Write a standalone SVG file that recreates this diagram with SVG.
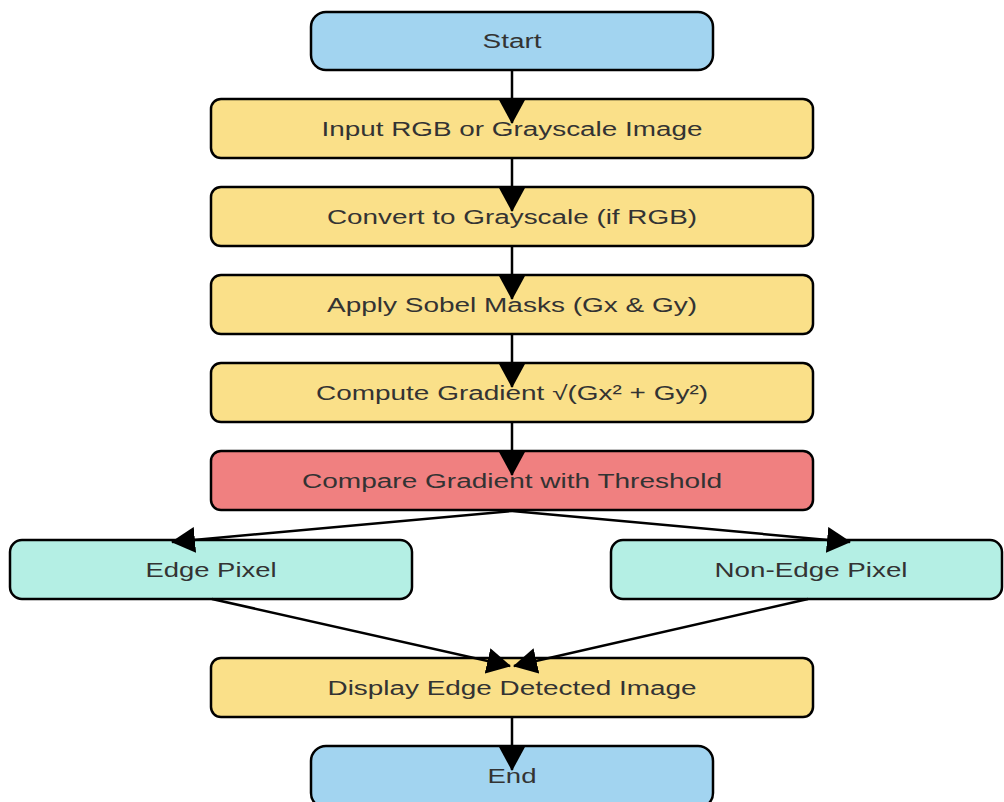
<svg xmlns="http://www.w3.org/2000/svg" width="1004" height="802" viewBox="0 0 1004 802">
<style>
.n rect{stroke:#000;stroke-width:2.5}
.t{fill:#222;stroke:none}
.b{fill:#A2D4F0}
.y{fill:#FAE089}
.r{fill:#F08080}
.g{fill:#B4EFE4}
text{font-family:"Liberation Sans",Arial,sans-serif;font-size:20px;fill:#333;text-anchor:middle}
#edges path{fill:none;stroke:#000;stroke-width:2.5}
</style>
<defs>
<marker id="ah" markerUnits="userSpaceOnUse" viewBox="0 0 24 26" refX="23" refY="13" markerWidth="24" markerHeight="26" orient="auto">
<path d="M0,0 L24,13 L0,26 z" fill="#000"/>
</marker>
</defs>
<rect width="1004" height="802" fill="#fff"/>
<g id="nodes">
<g id="start" class="n"><rect class="b" x="311" y="12" width="402" height="58" rx="15"/><text x="512" y="48" textLength="59" lengthAdjust="spacingAndGlyphs">Start</text></g>
<g id="input" class="n"><rect class="y" x="211" y="99" width="602" height="59" rx="10"/><text x="512" y="136" textLength="381" lengthAdjust="spacingAndGlyphs">Input RGB or Grayscale Image</text></g>
<g id="convert" class="n"><rect class="y" x="211" y="187" width="602" height="59" rx="10"/><text x="512" y="224" textLength="370" lengthAdjust="spacingAndGlyphs">Convert to Grayscale (if RGB)</text></g>
<g id="sobel" class="n"><rect class="y" x="211" y="275" width="602" height="59" rx="10"/><text x="512" y="312" textLength="370" lengthAdjust="spacingAndGlyphs">Apply Sobel Masks (Gx &amp; Gy)</text></g>
<g id="gradient" class="n"><rect class="y" x="211" y="363" width="602" height="59" rx="10"/><text x="512" y="400" textLength="392" lengthAdjust="spacingAndGlyphs">Compute Gradient √(Gx² + Gy²)</text></g>
<g id="compare" class="n"><rect class="r" x="211" y="451" width="602" height="59" rx="10"/><text x="512" y="488" textLength="420" lengthAdjust="spacingAndGlyphs">Compare Gradient with Threshold</text></g>
<g id="edge" class="n"><rect class="g" x="10" y="540" width="402" height="59" rx="12"/><text x="211" y="577" textLength="131" lengthAdjust="spacingAndGlyphs">Edge Pixel</text></g>
<g id="nonedge" class="n"><rect class="g" x="611" y="540" width="391" height="59" rx="12"/><text x="811" y="577" textLength="193" lengthAdjust="spacingAndGlyphs">Non-Edge Pixel</text></g>
<g id="display" class="n"><rect class="y" x="211" y="658" width="602" height="59" rx="10"/><text x="512" y="695" textLength="369" lengthAdjust="spacingAndGlyphs">Display Edge Detected Image</text></g>
<g id="end" class="n"><rect class="b" x="311" y="746" width="402" height="62" rx="15"/><text x="512" y="783" textLength="49" lengthAdjust="spacingAndGlyphs">End</text></g>
</g>
<g id="edges">
<path d="M512,70 L512,123" marker-end="url(#ah)"/>
<path d="M512,158 L512,211" marker-end="url(#ah)"/>
<path d="M512,246 L512,299" marker-end="url(#ah)"/>
<path d="M512,334 L512,387" marker-end="url(#ah)"/>
<path d="M512,422 L512,475" marker-end="url(#ah)"/>
<path d="M512,511 L172,542" marker-end="url(#ah)"/>
<path d="M512,511 L850,542" marker-end="url(#ah)"/>
<path d="M212,599 L510,666" marker-end="url(#ah)"/>
<path d="M808,599 L514,666" marker-end="url(#ah)"/>
<path d="M512,717 L512,770" marker-end="url(#ah)"/>
</g>
</svg>
